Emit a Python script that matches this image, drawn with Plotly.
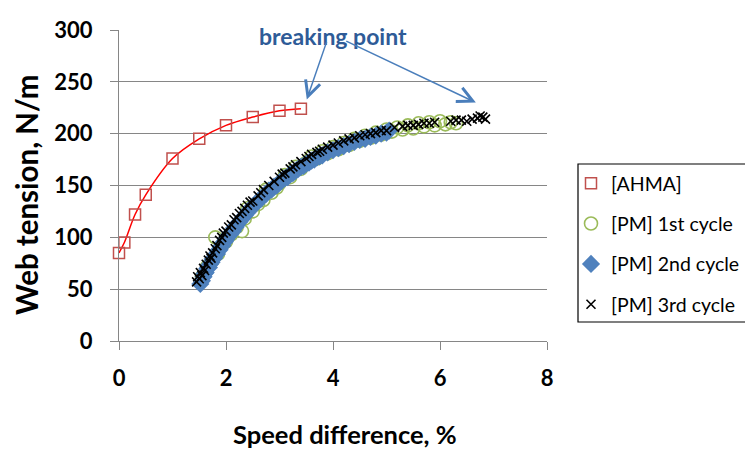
import plotly.graph_objects as go

# ---------------- data ----------------
ahma_x = [0.0, 0.1, 0.3, 0.5, 1.0, 1.5, 2.0, 2.5, 3.0, 3.4]
ahma_y = [85, 95, 122, 141, 176, 195, 208, 216, 222, 224]

pm1_x = [1.55, 1.65, 1.75, 1.85, 1.80, 2.0, 2.1, 2.2, 2.3, 2.35, 2.4, 2.5, 2.6, 2.7, 2.75, 2.85,
         2.95, 3.0, 3.1, 3.2, 3.3, 3.4, 3.5, 3.6, 3.7, 3.8, 3.9, 4.0, 4.1, 4.2, 4.3, 4.4,
         4.5, 4.6, 4.7, 4.8, 4.9, 5.0, 5.1, 5.2, 5.3, 5.4, 5.5, 5.6, 5.7, 5.8, 5.9, 6.0,
         6.1, 6.2, 6.3]
pm1_y = [62, 72, 78, 84, 100, 96, 103, 110, 106, 118, 128, 125, 132, 136, 146, 143,
         148, 152, 160, 158, 168, 166, 172, 178, 176, 183, 181, 187, 185, 191, 189, 195,
         193, 198, 196, 201, 199, 204, 202, 206, 204, 208, 205, 210, 207, 211, 208, 212,
         209, 211, 210]

pm2_x = [1.52, 1.55, 1.58, 1.6, 1.62, 1.65, 1.68, 1.7, 1.73, 1.75, 1.78, 1.8, 1.83, 1.85, 1.88,
         1.9, 1.93, 1.95, 1.98, 2.0, 2.03, 2.05, 2.08, 2.1, 2.13, 2.15, 2.18, 2.2, 2.25, 2.3,
         2.35, 2.4, 2.45, 2.5, 2.55, 2.6, 2.65, 2.7, 2.75, 2.8, 2.85, 2.9, 2.95, 3.0, 3.05,
         3.1, 3.15, 3.2, 3.25, 3.3, 3.35, 3.4, 3.45, 3.5, 3.55, 3.6, 3.65, 3.7, 3.75, 3.8,
         3.9, 4.0, 4.1, 4.2, 4.3, 4.4, 4.5, 4.6, 4.7, 4.8, 4.9, 5.0, 5.05]
pm2_y = [55, 58, 62, 65, 66, 70, 71, 74, 76, 79, 80, 83, 84, 87, 88,
         91, 92, 95, 96, 98, 100, 102, 103, 105, 106, 109, 110, 112, 115, 118,
         121, 124, 127, 130, 132, 135, 137, 140, 142, 145, 146, 149, 150, 153, 155,
         157, 158, 161, 162, 164, 166, 168, 169, 171, 172, 174, 175, 177, 178, 179,
         182, 184, 186, 188, 190, 192, 194, 195, 197, 198, 200, 201, 203]

pm3_x = [1.45, 1.47, 1.5, 1.52, 1.55, 1.58, 1.6, 1.63, 1.67, 1.7, 1.72, 1.75, 1.8, 1.83, 1.88,
         1.92, 1.95, 2.0, 2.05, 2.1, 2.15, 2.2, 2.25, 2.3, 2.35, 2.4, 2.45, 2.5, 2.6, 2.65,
         2.7, 2.8, 2.9, 3.0, 3.05, 3.1, 3.2, 3.25, 3.3, 3.4, 3.5, 3.55, 3.6, 3.7, 3.75,
         3.8, 3.9, 4.0, 4.1, 4.2, 4.3, 4.4, 4.5, 4.6, 4.7, 4.8, 4.9, 5.0, 5.15, 5.3, 5.4,
         5.5, 5.6, 5.7, 5.8, 5.9, 6.2, 6.3, 6.4, 6.5, 6.6, 6.7, 6.75, 6.8, 6.85]
pm3_y = [57, 62, 60, 66, 63, 70, 68, 74, 78, 82, 80, 85, 89, 92, 97,
         100, 104, 106, 110, 112, 117, 119, 123, 125, 128, 131, 134, 135, 140, 143,
         146, 150, 154, 158, 161, 162, 166, 168, 170, 173, 176, 178, 180, 182, 183,
         185, 187, 189, 191, 193, 195, 196, 198, 199, 200, 201, 203, 203, 206, 207, 208,
         208, 209, 210, 210, 211, 212, 213, 213, 212, 214, 215, 217, 216, 214]

series_names = ["[AHMA]", "[PM] 1st cycle", "[PM] 2nd cycle", "[PM] 3rd cycle"]
x_ticks = [0, 2, 4, 6, 8]
y_ticks = [0, 50, 100, 150, 200, 250, 300]
x_title = "Speed difference, %"
y_title = "Web tension, N/m"

# ---------------- figure ----------------
FONT = "Lato"
fig = go.Figure()

fig.add_trace(go.Scatter(x=ahma_x, y=ahma_y, mode="lines", cliponaxis=False,
                         line=dict(color="#FF0000", width=1.5, shape="spline", smoothing=1.0),
                         showlegend=False, hoverinfo="skip"))
fig.add_trace(go.Scatter(x=ahma_x, y=ahma_y, mode="markers", name=series_names[0],
                         legendgroup="a", cliponaxis=False,
                         marker=dict(symbol="square-open", size=11, color="#C0504D",
                                     line=dict(width=1.5, color="#C0504D"))))
fig.add_trace(go.Scatter(x=pm1_x, y=pm1_y, mode="markers", name=series_names[1],
                         legendgroup="b",
                         marker=dict(symbol="circle-open", size=13, color="#9BBB59",
                                     line=dict(width=1.6, color="#9BBB59"))))
fig.add_trace(go.Scatter(x=pm2_x, y=pm2_y, mode="markers", name=series_names[2],
                         legendgroup="c",
                         marker=dict(symbol="diamond", size=14, color="#4F81BD")))
fig.add_trace(go.Scatter(x=pm3_x, y=pm3_y, mode="markers", name=series_names[3],
                         legendgroup="d",
                         marker=dict(symbol="x-thin-open", size=9, color="black",
                                     line=dict(width=1.6, color="black"))))

W, H = 745, 454
L, R, T, B = 119, 547, 30, 341

def px_x(p):
    return (p - L) / (R - L)

def px_y(p):
    return (B - p) / (B - T)

fig.update_layout(
    width=W, height=H,
    margin=dict(l=L, r=W - R, t=T, b=H - B, autoexpand=False),
    plot_bgcolor="white", paper_bgcolor="white",
    font=dict(family=FONT, color="black"),
    showlegend=True,
    legend=dict(x=px_x(571), y=px_y(164), xanchor="left", yanchor="top",
                bgcolor="rgba(0,0,0,0)", borderwidth=0,
                font=dict(family=FONT, size=19.5, color="black"),
                traceorder="grouped", tracegroupgap=12),
)

fig.update_xaxes(range=[0, 8], tickvals=x_ticks, ticktext=[str(v) for v in x_ticks],
                 showgrid=False, zeroline=False,
                 showline=True, linecolor="#868686", linewidth=1,
                 ticks="outside", ticklen=8, tickcolor="#868686", tickwidth=1,
                 tickfont=dict(family=FONT, size=22, weight="bold"),
                 ticklabelstandoff=10)
fig.update_yaxes(range=[0, 300], tickvals=y_ticks, ticktext=[str(v) for v in y_ticks],
                 showgrid=True, gridcolor="#868686", gridwidth=1, zeroline=False,
                 showline=True, linecolor="#868686", linewidth=1,
                 ticks="outside", ticklen=8, tickcolor="#868686", tickwidth=1,
                 tickfont=dict(family=FONT, size=22, weight="bold"),
                 ticklabelstandoff=13)

# axis titles, placed as in the original
fig.add_annotation(xref="paper", yref="paper", x=px_x(345), y=px_y(434),
                   xanchor="center", yanchor="middle",
                   text=x_title, showarrow=False,
                   font=dict(family=FONT, size=25.5, weight="bold", color="black"))
fig.add_annotation(xref="paper", yref="paper", x=px_x(26), y=px_y(195),
                   xanchor="center", yanchor="middle", textangle=-90,
                   text=y_title, showarrow=False,
                   font=dict(family=FONT, size=29.5, weight="bold", color="black"))

# legend frame (extends past the right edge like the original)
fig.add_shape(type="rect", xref="paper", yref="paper",
              x0=px_x(578), x1=px_x(800), y0=px_y(322), y1=px_y(164),
              line=dict(color="black", width=1.2), fillcolor="rgba(0,0,0,0)")

# breaking point annotation
fig.add_annotation(xref="paper", yref="paper", x=px_x(333), y=px_y(20),
                   text="breaking point", showarrow=False,
                   font=dict(family=FONT, size=23, weight="bold", color="#2E5B97"))
arrow_color = "#4A7EBB"
fig.add_annotation(xref="x", yref="y", axref="x", ayref="y",
                   x=3.51, y=233, ax=3.89, ay=290, text="", showarrow=True,
                   arrowhead=5, arrowsize=2, arrowwidth=1.5, arrowcolor=arrow_color)
fig.add_annotation(xref="x", yref="y", axref="x", ayref="y",
                   x=6.67, y=230, ax=4.22, ay=290, text="", showarrow=True,
                   arrowhead=5, arrowsize=2, arrowwidth=1.5, arrowcolor=arrow_color)

fig.write_html("out.html")
